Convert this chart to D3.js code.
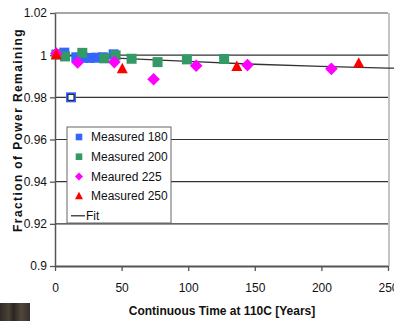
<!DOCTYPE html>
<html>
<head>
<meta charset="utf-8">
<script src="https://cdn.jsdelivr.net/npm/d3@7"></script>
<style>
  html, body { margin: 0; padding: 0; background: #fff; }
  svg { display: block; font-family: "Liberation Sans", Arial, sans-serif; }
</style>
</head>
<body>
<svg width="394" height="321"></svg>
<script>
// values: [years, fraction]
const measured180 = [[3, 1.0005], [7, 1.0012], [16, 0.999], [21, 0.9988], [26, 0.9987], [31, 0.9988], [36, 0.999], [44, 1.0004]];
const outlier180 = [[12, 0.98]];
const measured200 = [[1, 1.0003], [7.5, 0.9994], [20.5, 1.0011], [37, 0.9985], [45.5, 0.9999], [57.5, 0.9983], [77, 0.9967], [99, 0.998], [127, 0.9982]];
const measured225 = [[1, 1.0008], [17, 0.9965], [44.5, 0.9967], [74, 0.9886], [106, 0.995], [144.5, 0.9953], [207.5, 0.9935]];
const measured250 = [[1, 1.0002], [50.5, 0.9935], [136.5, 0.9946], [228, 0.9962]];
const fit = [[0, 1.0], [50, 0.9985], [100, 0.9971], [150, 0.9957], [200, 0.9947], [250, 0.9939], [255, 0.9938]];

const xTicks = [0, 50, 100, 150, 200, 250];
const yTicks = [0.9, 0.92, 0.94, 0.96, 0.98, 1.0, 1.02];
const yTickLabels = ["0.9", "0.92", "0.94", "0.96", "0.98", "1", "1.02"];
const legendLabels = ["Measured 180", "Measured 200", "Meaured 225", "Measured 250", "Fit"];

const svg = d3.select("svg");
const plotL = 55, plotR = 388, plotT = 13, plotB = 266;

const x = d3.scaleLinear().domain([0, 250]).range([plotL, plotR]);
const y = d3.scaleLinear().domain([0.9, 1.02]).range([plotB, plotT]);

// photo scrap at bottom-left
const grad = svg.append("defs").append("linearGradient").attr("id", "scrap");
[["0%", "#2e2a24"], ["30%", "#4a4237"], ["45%", "#2a251f"], ["70%", "#50483c"], ["100%", "#35302a"]]
  .forEach(s => grad.append("stop").attr("offset", s[0]).attr("stop-color", s[1]));
svg.append("rect").attr("x", 0).attr("y", 303).attr("width", 30).attr("height", 18).attr("fill", "url(#scrap)");

// grid lines
svg.append("g")
  .selectAll("line")
  .data(yTicks.filter(d => d > 0.9 && d < 1.02))
  .join("line")
    .attr("x1", plotL).attr("x2", plotR)
    .attr("y1", d => y(d)).attr("y2", d => y(d))
    .attr("stroke", "#333").attr("stroke-width", 1.2);

// top and right border
svg.append("line").attr("x1", plotL).attr("x2", plotR).attr("y1", plotT).attr("y2", plotT)
  .attr("stroke", "#888").attr("stroke-width", 1.5);
svg.append("line").attr("x1", plotR + 1).attr("x2", plotR + 1).attr("y1", plotT).attr("y2", plotB)
  .attr("stroke", "#c4c4c4").attr("stroke-width", 2);

// axes
const yAxis = svg.append("g")
  .attr("transform", `translate(${plotL},0)`)
  .call(d3.axisLeft(y).tickValues(yTicks).tickFormat((d, i) => yTickLabels[i]).tickSize(5).tickPadding(3).tickSizeOuter(0));
const xAxis = svg.append("g")
  .attr("transform", `translate(0,${plotB})`)
  .call(d3.axisBottom(x).tickValues(xTicks).tickSize(5).tickPadding(12).tickSizeOuter(0));

[yAxis, xAxis].forEach(a => {
  a.select(".domain").attr("stroke", "#555").attr("stroke-width", 1.5);
  a.selectAll(".tick line").attr("stroke", "#555").attr("stroke-width", 1.3);
  a.selectAll("text").attr("font-size", 12).attr("fill", "#111")
    .attr("font-family", "'Liberation Sans', Arial, sans-serif");
});
xAxis.select(".domain").attr("stroke-width", 2);

// fit line
svg.append("path")
  .datum(fit)
  .attr("fill", "none")
  .attr("stroke", "#333")
  .attr("stroke-width", 1.3)
  .attr("d", d3.line().x(d => x(d[0])).y(d => y(d[1])));

// marker shapes
const square = s => `M${-s},${-s}h${2 * s}v${2 * s}h${-2 * s}z`;
const diamond = s => `M0,${-s}L${s},0L0,${s}L${-s},0z`;
const triangle = s => `M0,${-s * 1.1}L${s},${s * 0.8}L${-s},${s * 0.8}z`;

const series = [
  { data: measured180, shape: square(5), color: "#3366ff" },
  { data: measured200, shape: square(5), color: "#339966" },
  { data: measured225, shape: diamond(6.3), color: "#ff00ff" },
  { data: measured250, shape: triangle(5.5), color: "#ff0000" }
];

series.forEach(s => {
  svg.append("g")
    .selectAll("path")
    .data(s.data)
    .join("path")
      .attr("transform", d => `translate(${x(d[0])},${y(d[1])})`)
      .attr("d", s.shape)
      .attr("fill", s.color);
});

// hollow outlier point
const out = svg.append("g")
  .selectAll("g")
  .data(outlier180)
  .join("g")
    .attr("transform", d => `translate(${x(d[0])},${y(d[1])})`);
out.append("path").attr("d", square(5)).attr("fill", "#3366ff");
out.append("path").attr("d", square(3)).attr("fill", "#fff").attr("stroke", "#111").attr("stroke-width", 1);

// legend
const legend = svg.append("g").attr("transform", "translate(67,127)");
legend.append("rect").attr("width", 104).attr("height", 96)
  .attr("fill", "#fff").attr("stroke", "#666").attr("stroke-width", 1);

const legendShapes = [
  { shape: square(3.3), color: "#3366ff" },
  { shape: square(3.3), color: "#339966" },
  { shape: diamond(4), color: "#ff00ff" },
  { shape: triangle(4), color: "#ff0000" },
  null
];

const item = legend.selectAll("g.item")
  .data(legendLabels)
  .join("g")
    .attr("class", "item")
    .attr("transform", (d, i) => `translate(0,${10 + i * 19.7})`);

item.each(function(d, i) {
  const g = d3.select(this);
  const m = legendShapes[i];
  if (m) {
    g.append("path").attr("transform", "translate(12,0)").attr("d", m.shape).attr("fill", m.color);
  } else {
    g.append("line").attr("x1", 4).attr("x2", 18).attr("stroke", "#222").attr("stroke-width", 1.2);
  }
  g.append("text")
    .attr("x", i === 4 ? 19 : 24)
    .attr("dy", "0.36em")
    .attr("font-size", 12)
    .attr("fill", "#111")
    .text(d);
});

// axis titles
svg.append("text")
  .attr("transform", "translate(22,130) rotate(-90)")
  .attr("text-anchor", "middle")
  .attr("font-size", 12)
  .attr("font-weight", "bold")
  .attr("letter-spacing", 1.4)
  .attr("fill", "#111")
  .text("Fraction of Power Remaining");

svg.append("text")
  .attr("x", 222)
  .attr("y", 315)
  .attr("text-anchor", "middle")
  .attr("font-size", 12)
  .attr("font-weight", "bold")
  .attr("fill", "#111")
  .text("Continuous Time at 110C [Years]");
</script>
</body>
</html>
